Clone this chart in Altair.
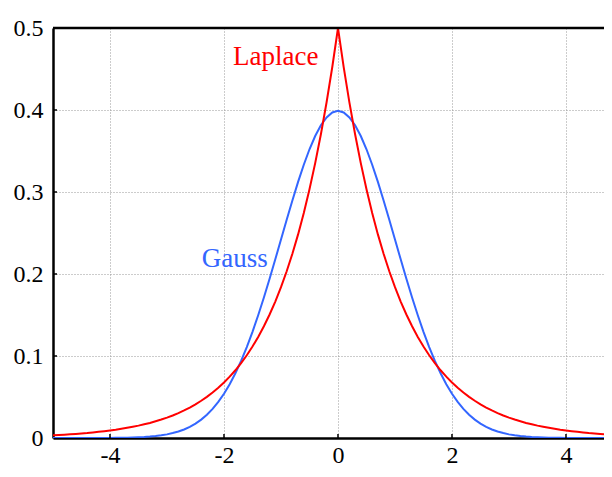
import altair as alt
import pandas as pd

# sample positions (x)
x_vals = [
    -5.0, -4.9, -4.8, -4.7, -4.6, -4.5, -4.4, -4.3, -4.2, -4.1,
    -4.0, -3.9, -3.8, -3.7, -3.6, -3.5, -3.4, -3.3, -3.2, -3.1,
    -3.0, -2.9, -2.8, -2.7, -2.6, -2.5, -2.4, -2.3, -2.2, -2.1,
    -2.0, -1.9, -1.8, -1.7, -1.6, -1.5, -1.4, -1.3, -1.2, -1.1,
    -1.0, -0.9, -0.8, -0.7, -0.6, -0.5, -0.4, -0.3, -0.2, -0.1,
    0.0,
    0.1, 0.2, 0.3, 0.4, 0.5, 0.6, 0.7, 0.8, 0.9, 1.0,
    1.1, 1.2, 1.3, 1.4, 1.5, 1.6, 1.7, 1.8, 1.9, 2.0,
    2.1, 2.2, 2.3, 2.4, 2.5, 2.6, 2.7, 2.8, 2.9, 3.0,
    3.1, 3.2, 3.3, 3.4, 3.5, 3.6, 3.7, 3.8, 3.9, 4.0,
    4.1, 4.2, 4.3, 4.4, 4.5, 4.6, 4.7, 4.8, 4.9, 5.0,
]

gauss = [
    0.0000, 0.0000, 0.0000, 0.0000, 0.0000, 0.0000, 0.0000, 0.0000, 0.0001, 0.0001,
    0.0001, 0.0002, 0.0003, 0.0004, 0.0006, 0.0009, 0.0012, 0.0017, 0.0024, 0.0033,
    0.0044, 0.0060, 0.0079, 0.0104, 0.0136, 0.0175, 0.0224, 0.0283, 0.0355, 0.0440,
    0.0540, 0.0656, 0.0790, 0.0940, 0.1109, 0.1295, 0.1497, 0.1714, 0.1942, 0.2179,
    0.2420, 0.2661, 0.2897, 0.3123, 0.3332, 0.3521, 0.3683, 0.3814, 0.3910, 0.3970,
    0.3989,
    0.3970, 0.3910, 0.3814, 0.3683, 0.3521, 0.3332, 0.3123, 0.2897, 0.2661, 0.2420,
    0.2179, 0.1942, 0.1714, 0.1497, 0.1295, 0.1109, 0.0940, 0.0790, 0.0656, 0.0540,
    0.0440, 0.0355, 0.0283, 0.0224, 0.0175, 0.0136, 0.0104, 0.0079, 0.0060, 0.0044,
    0.0033, 0.0024, 0.0017, 0.0012, 0.0009, 0.0006, 0.0004, 0.0003, 0.0002, 0.0001,
    0.0001, 0.0001, 0.0000, 0.0000, 0.0000, 0.0000, 0.0000, 0.0000, 0.0000, 0.0000,
]

laplace = [
    0.0034, 0.0037, 0.0041, 0.0045, 0.0050, 0.0056, 0.0061, 0.0068, 0.0075, 0.0083,
    0.0092, 0.0101, 0.0112, 0.0124, 0.0137, 0.0151, 0.0167, 0.0184, 0.0204, 0.0225,
    0.0249, 0.0275, 0.0304, 0.0336, 0.0371, 0.0410, 0.0454, 0.0501, 0.0554, 0.0612,
    0.0677, 0.0748, 0.0826, 0.0913, 0.1009, 0.1116, 0.1233, 0.1363, 0.1506, 0.1664,
    0.1839, 0.2033, 0.2247, 0.2483, 0.2744, 0.3033, 0.3352, 0.3704, 0.4094, 0.4524,
    0.5000,
    0.4524, 0.4094, 0.3704, 0.3352, 0.3033, 0.2744, 0.2483, 0.2247, 0.2033, 0.1839,
    0.1664, 0.1506, 0.1363, 0.1233, 0.1116, 0.1009, 0.0913, 0.0826, 0.0748, 0.0677,
    0.0612, 0.0554, 0.0501, 0.0454, 0.0410, 0.0371, 0.0336, 0.0304, 0.0275, 0.0249,
    0.0225, 0.0204, 0.0184, 0.0167, 0.0151, 0.0137, 0.0124, 0.0112, 0.0101, 0.0092,
    0.0083, 0.0075, 0.0068, 0.0061, 0.0056, 0.0050, 0.0045, 0.0041, 0.0037, 0.0034,
]

x_ticks = [-4, -2, 0, 2, 4]
y_ticks = [0, 0.1, 0.2, 0.3, 0.4, 0.5]
inner_y_ticks = [0.1, 0.2, 0.3, 0.4]

labels = ["Laplace", "Gauss"]
label_x = [-1.84, -2.39]
label_y = [0.455, 0.209]
label_colors = ["#ff0000", "#3366ff"]

W, H = 551, 410
FONT = "Liberation Serif"

xs = alt.Scale(domain=[-5, 4.667], nice=False, zero=False)
ys = alt.Scale(domain=[0, 0.5], nice=False)

axis_style = dict(
    title=None, grid=True, ticks=False,
    domainColor="black", domainWidth=2.5,
    labelFont=FONT, labelFontSize=24, labelColor="black",
    gridColor="#999999", gridDash=[1, 2], gridWidth=1,
)
x_axis = alt.Axis(values=x_ticks, labelPadding=5,
                  labelExpr="toString(datum.value)", **axis_style)
y_axis = alt.Axis(values=y_ticks, labelPadding=10,
                  labelExpr="datum.value == 0 ? '0' : format(datum.value, '.1f')",
                  **axis_style)


def xe(field="x"):
    return alt.X(f"{field}:Q", scale=xs, axis=x_axis)


def ye(field="y"):
    return alt.Y(f"{field}:Q", scale=ys, axis=y_axis)


gdf = pd.DataFrame({"x": x_vals, "y": gauss})
ldf = pd.DataFrame({"x": x_vals, "y": laplace})
tdf = pd.DataFrame({"x": label_x, "y": label_y, "label": labels, "color": label_colors})
xtdf = pd.DataFrame({"x": x_ticks})
ytdf = pd.DataFrame({"y": inner_y_ticks})
one = pd.DataFrame({"a": [0]})

gauss_line = alt.Chart(gdf).mark_line(color="#3366ff", strokeWidth=2, clip=True).encode(
    x=xe(), y=ye())
laplace_line = alt.Chart(ldf).mark_line(color="#ff0000", strokeWidth=2, clip=True).encode(
    x=xe(), y=ye())

text = alt.Chart(tdf).mark_text(font=FONT, fontSize=27, align="left",
                                baseline="alphabetic").encode(
    x=xe(), y=ye(), text="label:N", color=alt.Color("color:N", scale=None))

x_tick_marks = alt.Chart(xtdf).mark_rule(color="black", strokeWidth=1.5).encode(
    x=xe(), y=alt.value(H - 4), y2=alt.value(H))
y_tick_marks = alt.Chart(ytdf).mark_rule(color="black", strokeWidth=1.5).encode(
    y=ye(), x=alt.value(0), x2=alt.value(4))
top_border = alt.Chart(one).mark_rule(color="black", strokeWidth=2.5).encode(
    x=alt.value(0), x2=alt.value(W), y=alt.value(0))

chart = alt.layer(
    gauss_line, laplace_line, x_tick_marks, y_tick_marks, top_border, text
).properties(
    width=W, height=H,
    autosize=alt.AutoSizeParams(type="none"),
    padding={"left": 45, "top": 20, "right": 0, "bottom": 31},
).configure_view(stroke=None)

chart.save("out.html", embed_options={"renderer": "svg", "actions": False})
